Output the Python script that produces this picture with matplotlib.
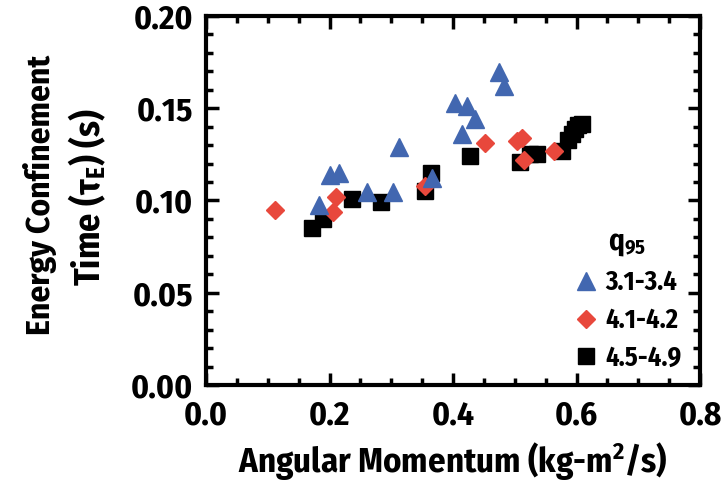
import matplotlib
matplotlib.use("Agg")
import matplotlib.pyplot as plt
from matplotlib.ticker import MultipleLocator

FONT = 'Fira Sans Condensed'
plt.rcParams['font.family'] = [FONT, 'DejaVu Sans']
plt.rcParams['font.weight'] = 'bold'
plt.rcParams['mathtext.fontset'] = 'custom'
plt.rcParams['mathtext.rm'] = FONT + ':bold'
plt.rcParams['mathtext.it'] = FONT + ':bold'
plt.rcParams['mathtext.bf'] = FONT + ':bold'
plt.rcParams['mathtext.default'] = 'rm'

# q95 3.1-3.4 (blue triangles)
tri_x = [0.183, 0.200, 0.216, 0.261, 0.303, 0.313, 0.366, 0.403, 0.415, 0.423, 0.435, 0.474, 0.482]
tri_y = [0.0974, 0.114, 0.115, 0.1046, 0.1046, 0.129, 0.112, 0.153, 0.136, 0.151, 0.144, 0.1695, 0.162]

# q95 4.1-4.2 (red diamonds)
dia_x = [0.111, 0.205, 0.211, 0.355, 0.452, 0.503, 0.511, 0.515, 0.563]
dia_y = [0.0947, 0.0938, 0.102, 0.108, 0.131, 0.132, 0.134, 0.122, 0.127]

# q95 4.5-4.9 (black squares)
sq_x = [0.172, 0.189, 0.237, 0.284, 0.354, 0.365, 0.428, 0.509, 0.525, 0.536, 0.576, 0.587, 0.592, 0.598, 0.603, 0.609]
sq_y = [0.0851, 0.090, 0.101, 0.0992, 0.105, 0.115, 0.124, 0.121, 0.125, 0.125, 0.127, 0.133, 0.136, 0.139, 0.141, 0.1415]

labels = ['3.1-3.4', '4.1-4.2', '4.5-4.9']

fig = plt.figure(figsize=(7.28, 4.82), dpi=100)
ax = fig.add_axes([206/728, 1-385/482, (700-206)/728, (385-16)/482])

ax.plot(sq_x, sq_y, 's', color='black', markersize=11, linestyle='none', label=labels[2], zorder=3)
ax.plot(dia_x, dia_y, 'D', color='#e8483c', markersize=9, linestyle='none', label=labels[1], zorder=4)
ax.plot(tri_x, tri_y, '^', color='#4267b0', markersize=13, linestyle='none', label=labels[0], zorder=5)

ax.set_xlim(0, 0.8)
ax.set_ylim(0, 0.2)
ax.xaxis.set_major_locator(MultipleLocator(0.2))
ax.xaxis.set_minor_locator(MultipleLocator(0.05))
ax.yaxis.set_major_locator(MultipleLocator(0.05))
ax.yaxis.set_minor_locator(MultipleLocator(0.01))
ax.xaxis.set_major_formatter(plt.FuncFormatter(lambda v, p: f"{v:.1f}"))
ax.yaxis.set_major_formatter(plt.FuncFormatter(lambda v, p: f"{v:.2f}"))

ax.tick_params(which='both', direction='in', top=True, right=True, width=2.5)
ax.tick_params(which='major', length=9, labelsize=24)
ax.tick_params(axis='x', which='major', pad=11)
ax.tick_params(axis='y', which='major', pad=9)
ax.tick_params(which='minor', length=5)
for sp in ax.spines.values():
    sp.set_linewidth(3)

ax.set_xlabel('Angular Momentum (kg-m$^2$/s)', fontsize=25, fontweight='bold', labelpad=6)
fig.text(40/728, 1-195/482, 'Energy Confinement', rotation=90, ha='center', va='center',
         fontsize=24, fontweight='bold')
fig.text(87/728, 1-197/482, r'Time ($\tau_E$) (s)', rotation=90, ha='center', va='center',
         fontsize=26, fontweight='bold')

h, l = ax.get_legend_handles_labels()
order = [2, 1, 0]
leg = ax.legend([h[i] for i in order], [l[i] for i in order], title='q$_{95}$',
                loc='lower right', bbox_to_anchor=(0.995, -0.005), frameon=False,
                fontsize=19, title_fontsize=21, handletextpad=0.25, labelspacing=0.42,
                borderaxespad=0.2, handlelength=1.0)
for t in leg.get_texts():
    t.set_fontweight('bold')

fig.savefig('out.png', dpi=100)
